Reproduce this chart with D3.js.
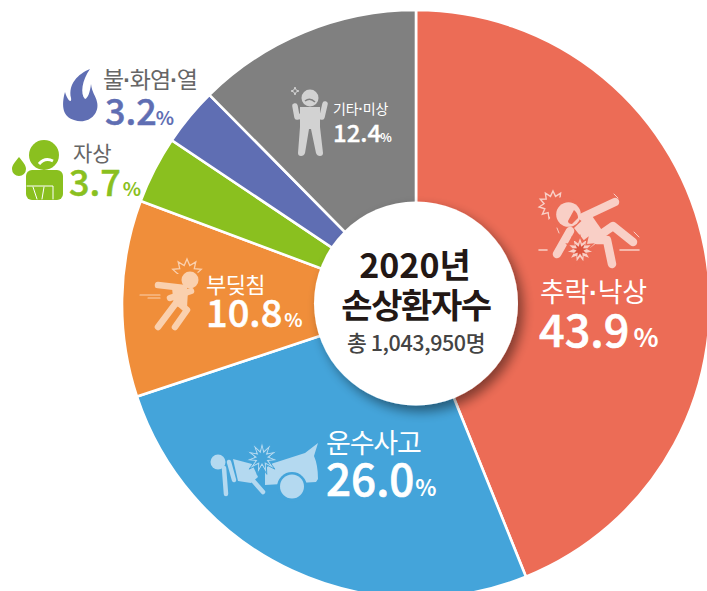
<!DOCTYPE html>
<html><head><meta charset="utf-8">
<script src="https://cdn.jsdelivr.net/npm/d3@7"></script>
<style>html,body{margin:0;padding:0;background:#fff;overflow:hidden}svg{display:block}
text{font-family:"Noto Sans CJK KR","Noto Sans",sans-serif}</style></head>
<body><svg id="c" width="707" height="591"></svg>
<script>
const categories=["추락·낙상","운수사고","부딪침","자상","불·화염·열","기타·미상"];
const values=[43.9,26.0,10.8,3.7,3.2,12.4];
const colors=["#ec6c56","#44a4da","#f08e3a","#8ac01f","#5f6eb3","#808080"];
const titleLines=["2020년","손상환자수"];
const totalLabel="총 1,043,950명";

const svg=d3.select("#c");
const cx=416,cy=304,R=294,r0=102;
const defs=svg.append("defs");
const f=defs.append("filter").attr("id","sh").attr("x","-30%").attr("y","-30%").attr("width","170%").attr("height","170%");
f.append("feGaussianBlur").attr("in","SourceAlpha").attr("stdDeviation",6).attr("result","b");
f.append("feOffset").attr("in","b").attr("dx",5).attr("dy",6).attr("result","o");
f.append("feComponentTransfer").attr("in","o").attr("result","a").append("feFuncA").attr("type","linear").attr("slope",.45);
const m=f.append("feMerge");m.append("feMergeNode").attr("in","a");m.append("feMergeNode").attr("in","SourceGraphic");

const pie=d3.pie().sort(null).value(d=>d);
const arc=d3.arc().innerRadius(0).outerRadius(R);
const g=svg.append("g").attr("transform",`translate(${cx},${cy})`);
g.selectAll("path").data(pie(values)).join("path").attr("d",arc)
 .attr("fill",(d,i)=>colors[i]).attr("stroke","#fff").attr("stroke-width",2.6).attr("stroke-linejoin","miter");
svg.append("circle").attr("cx",cx).attr("cy",cy-.5).attr("r",r0).attr("fill","#fff").attr("filter","url(#sh)");

// text
function T(x,y,s,size,fill,w,anchor,ls){const t=svg.append("text").attr("x",x).attr("y",y)
 .attr("font-size",size).attr("fill",fill).attr("font-weight",w||400).attr("text-anchor",anchor||"start").attr("letter-spacing",ls||0);
 s.split("·").forEach((p,i)=>{ if(i) t.append("tspan").attr("font-family","Liberation Sans").attr("font-weight",700).text("·");
   t.append("tspan").text(p);});
 return t;}
function V(x,y,v,size,psize,fill,gap){const t=svg.append("text").attr("x",x).attr("y",y).attr("fill",fill);
 t.append("tspan").attr("font-size",size).attr("font-weight",500).attr("stroke",fill).attr("stroke-width",size/70).text(v.toFixed(1));
 t.append("tspan").attr("font-size",psize).attr("font-weight",700).attr("dx",gap).text("%");}
const grey="#666666";
T(540,302,categories[0],27,"#fff",400,"start",-.3);
V(539,347,values[0],45,26,"#fff",4);
T(326,453,categories[1],27,"#fff",400,"start",-1.2);
V(326,496,values[1],44,22,"#fff",1);
T(206,293,categories[2],22,"#fff",400,"start",-.6);
V(206,327,values[2],38,19,"#fff",2);
T(333,114,categories[5],14,"#fff",400,"start",-.2);
V(333,142,values[5],24,12,"#fff",-1);
T(103,88,categories[4],23,grey,400,"start",-1);
V(105,125,values[4],36,19,colors[4],-1);
T(73,161,categories[3],21,grey,400);
V(69,196,values[3],36,19,colors[3],2);
T(415,278,titleLines[0],34,"#231815",700,"middle");
T(416,318,titleLines[1],34,"#231815",700,"middle",-1.4);
T(416,351,totalLabel,21.5,"#444",500,"middle",-.4);

// pictograms
function burst(parent,x,y,ro,ri,n,attrs){const pts=d3.range(n*2).map(i=>[i*Math.PI/n,i%2?ri:ro]);
 const p=parent.append("path").attr("d",d3.lineRadial().curve(d3.curveLinearClosed)(pts)).attr("transform",`translate(${x},${y})`);
 Object.entries(attrs).forEach(([k,v])=>p.attr(k,v));return p;}
function lines(parent,arr,col,w){arr.forEach(a=>parent.append("path").attr("d",d3.line()(a)).attr("fill","none").attr("stroke",col).attr("stroke-width",w).attr("stroke-linecap","round").attr("stroke-linejoin","round"));}

// fall
const c1="#f9cfc6";const i1=svg.append("g");
lines(i1,[[[583,217],[615,202]],[[570,231],[557,254]],[[600,235],[613,226],[633,242]],[[597,240],[607,240],[612,264]]],c1,8.5);
i1.append("path").attr("d","M574 228L590 213L606 236L590 248Z").attr("fill",c1);
burst(i1,580,250,14,8,11,{fill:c1,stroke:colors[0],"stroke-width":1.5});
burst(i1,580,250,8,3.5,9,{fill:"#dd5540"});
burst(i1,553,205,14,9,11,{fill:"none",stroke:c1,"stroke-width":1.4});
i1.append("circle").attr("cx",564).attr("cy",212).attr("r",15).attr("fill",colors[0]);
i1.append("circle").attr("cx",568.5).attr("cy",214.5).attr("r",12.3).attr("fill",c1);
i1.append("path").attr("d","M574 210q4 3 4 8l-6 6q-4 0-4-3z").attr("fill",colors[0]);
lines(i1,[[[539,250],[547,250]],[[620,250],[639,250]]],c1,1.6);
lines(i1,[[[614,194],[618,198]],[[557,228],[559,233]],[[634,232],[639,237]]],c1,1);

// car crash
const c2="#b4d9f0";const i2=svg.append("g");
i2.append("path").attr("d","M265 484V470Q268 464 277 462L305 453L318 443L314 456Q318 465 318 479L316 482L265 485Z").attr("fill",c2);
i2.append("circle").attr("cx",292).attr("cy",487).attr("r",15).attr("fill",colors[1]);
i2.append("circle").attr("cx",292).attr("cy",486.5).attr("r",12).attr("fill",c2);
i2.append("circle").attr("cx",218).attr("cy",462).attr("r",7.5).attr("fill",c2);
lines(i2,[[[224,468],[226,494]],[[229,462],[234,480]],[[249,476],[263,492]]],c2,4.5);
i2.append("path").attr("d","M233 459L252 464L258 477L251 483L238 481Z").attr("fill",c2);
burst(i2,262,458,17,8,11,{fill:c2,stroke:colors[1],"stroke-width":1});
burst(i2,262,458,11,5,11,{fill:colors[1]});

// bump
const c3="#fad0ae";const i3=svg.append("g");
burst(i3,187,274,15,9,10,{fill:"none",stroke:c3,"stroke-width":1.3}).attr("clip-path","url(#bc)");
defs.append("clipPath").attr("id","bc").append("rect").attr("x",-20).attr("y",-20).attr("width",40).attr("height",20);
i3.append("circle").attr("cx",190).attr("cy",280).attr("r",10.5).attr("fill",colors[2]);
i3.append("circle").attr("cx",190).attr("cy",280).attr("r",8.5).attr("fill",c3);
lines(i3,[[[158,285],[184,288]],[[170,298],[191,291]],[[180,304],[187,310],[175,327]],[[176,303],[158,327]]],c3,6.5);
i3.append("path").attr("d","M172 288L188 290L187 308L174 306Z").attr("fill",c3);
lines(i3,[[[140,295],[160,295]],[[148,298],[160,298]]],c3,1.1);

// gray person
const c6="#d2d2d2";const i6=svg.append("g");
i6.append("circle").attr("cx",310).attr("cy",98).attr("r",8.5).attr("fill",c6);
i6.append("path").attr("d","M305 101q5-4 10 1").attr("fill","none").attr("stroke",colors[5]).attr("stroke-width",1.6);
i6.append("path").attr("d","M300 107H320V127L323 153Q323 156 320 156Q317 156 316 153L311 129H309L305 153Q304 156 301 156Q298 156 298 153L300 127Z").attr("fill",c6);
lines(i6,[[[295,106],[297,117],[302,116]],[[325,104],[322,117],[318,116]]],c6,5.5);
burst(i6,295,91,4,1.5,4,{fill:"none",stroke:c6,"stroke-width":1});

// flame
svg.append("path").attr("d","M90 69C78 74 68 84 71 98C72 103 68 102 65 92C61 106 63 117 74 120C88 125 100 114 97 102C96 96 92 93 91 84C90 92 88 98 85 99C80 94 82 80 90 69Z").attr("fill",colors[4]);

// self-injury
const c4=colors[3];const i4=svg.append("g");
i4.append("circle").attr("cx",44).attr("cy",155).attr("r",15).attr("fill",c4);
i4.append("path").attr("d","M39 164q6-7 14-3").attr("fill","none").attr("stroke","#fff").attr("stroke-width",3);
i4.append("rect").attr("x",26).attr("y",170).attr("width",37).attr("height",30).attr("rx",6).attr("fill",c4);
lines(i4,[[[27,186],[53,186],[53,199]],[[33,187],[37,199]],[[44,187],[42,199]]],"#fff",1);
i4.append("path").attr("d","M19 157C15 162 12 165 12 169A7 7 0 0 0 26 169C26 165 23 162 19 157Z").attr("fill",c4);
</script></body></html>
